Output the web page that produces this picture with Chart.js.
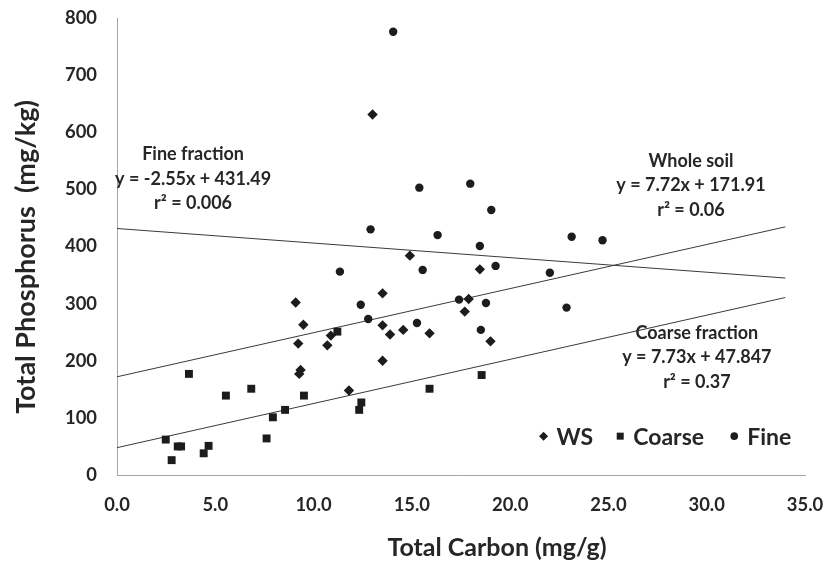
<!DOCTYPE html>
<html>
<head>
<meta charset="utf-8">
<script src="https://cdn.jsdelivr.net/npm/chart.js@4.4.1/dist/chart.umd.min.js"></script>
<style>
  html, body { margin: 0; padding: 0; background: #ffffff; }
  #wrap { width: 828px; height: 565px; position: relative; }
</style>
</head>
<body>
<div id="wrap"><canvas id="c" width="828" height="565"></canvas></div>
<script>
// ---- Data ----
const wsX = [9.09, 9.48, 9.22, 10.70, 10.88, 9.34, 9.27, 11.80, 13.0, 14.90, 18.46, 13.51, 17.89, 17.69, 13.51, 13.89, 14.56, 15.90, 19.0, 13.51];
const wsY = [302, 263, 230, 227, 244, 184, 177, 148, 631, 384, 360, 318, 308, 286, 262, 246, 254, 248, 234, 200];

const coarseX = [11.21, 3.66, 5.54, 6.83, 9.51, 8.55, 7.93, 7.61, 12.43, 12.32, 2.48, 3.09, 3.26, 2.78, 4.41, 4.66, 18.55, 15.90];
const coarseY = [251, 177, 139, 151, 139, 114, 101, 64, 127, 114, 62, 50, 50, 26, 38, 51, 175, 151];

const fineX = [14.05, 15.38, 17.97, 19.04, 16.31, 18.46, 23.13, 24.70, 15.55, 19.26, 22.02, 17.40, 18.77, 22.87, 15.26, 18.51, 12.90, 11.34, 12.40, 12.78];
const fineY = [776, 503, 510, 464, 420, 401, 417, 411, 359, 366, 354, 307, 301, 293, 266, 254, 430, 356, 298, 273];

// trendline end points (x from 0 to 34), values read from the printed equations
const trendX = [0, 34];
const wsTrendY = [171.91, 434.4];
const coarseTrendY = [47.85, 310.7];
const fineTrendY = [431.49, 344.8];

// tick labels
const xTicks = ["0.0", "5.0", "10.0", "15.0", "20.0", "25.0", "30.0", "35.0"];
const yTicks = ["0", "100", "200", "300", "400", "500", "600", "700", "800"];

// series names, axis titles and trend annotation texts
const seriesNames = ["WS", "Coarse", "Fine"];
const xTitle = "Total Carbon (mg/g)";
const yTitle = "Total Phosphorus  (mg/kg)";
const fineNote = ["Fine fraction", "y = -2.55x + 431.49", "r² = 0.006"];
const wsNote = ["Whole soil", "y = 7.72x + 171.91", "r² = 0.06"];
const coarseNote = ["Coarse fraction", "y = 7.73x + 47.847", "r² = 0.37"];

// ---- build ----
const pts = (xs, ys) => xs.map((x, i) => ({ x: x, y: ys[i] }));
const FONT = "Lato";
const TXT = "#262626";
const MARK = "#1c1c1c";
const LINE = "#3a3a3a";

const notesPlugin = {
  id: "notes",
  afterDatasetsDraw(chart) {
    const ctx = chart.ctx;
    const xs = chart.scales.x, ys = chart.scales.y;
    ctx.save();
    ctx.fillStyle = TXT;
    ctx.textAlign = "center";
    ctx.textBaseline = "middle";

    // axis titles
    ctx.font = "bold 25px " + FONT;
    ctx.fillText(xTitle, 497, 548);
    ctx.save();
    ctx.translate(26, 257);
    ctx.rotate(-Math.PI / 2);
    ctx.font = "bold 27px " + FONT;
    ctx.fillText(yTitle, 0, 0);
    ctx.restore();

    // trendline annotations
    ctx.font = "bold 18px " + FONT;
    const drawNote = (lines, dx, dy) => {
      const cx = xs.getPixelForValue(dx), cy = ys.getPixelForValue(dy);
      lines.forEach((t, i) => ctx.fillText(t, cx, cy + i * 24.5));
    };
    drawNote(fineNote, 3.87, 561);
    drawNote(wsNote, 29.2, 550);
    drawNote(coarseNote, 29.5, 249);

    // legend
    const ly = ys.getPixelForValue(68);
    ctx.textAlign = "left";
    ctx.font = "bold 23px " + FONT;
    const items = [
      { name: seriesNames[0], mx: xs.getPixelForValue(21.7), shape: "d" },
      { name: seriesNames[1], mx: xs.getPixelForValue(25.6), shape: "s" },
      { name: seriesNames[2], mx: xs.getPixelForValue(31.4), shape: "c" }
    ];
    items.forEach(it => {
      ctx.fillStyle = MARK;
      ctx.beginPath();
      if (it.shape === "d") {
        ctx.moveTo(it.mx, ly - 4.5); ctx.lineTo(it.mx + 4.5, ly); ctx.lineTo(it.mx, ly + 4.5); ctx.lineTo(it.mx - 4.5, ly);
        ctx.closePath();
      } else if (it.shape === "s") {
        ctx.rect(it.mx - 3.5, ly - 3.5, 7, 7);
      } else {
        ctx.arc(it.mx, ly, 3.8, 0, Math.PI * 2);
      }
      ctx.fill();
      ctx.fillStyle = TXT;
      ctx.fillText(it.name, it.mx + 13, ly + 1);
    });
    ctx.restore();
  }
};

new Chart(document.getElementById("c"), {
  type: "scatter",
  data: {
    datasets: [
      { label: seriesNames[0], data: pts(wsX, wsY), pointStyle: "rectRot", pointRadius: 5.2, backgroundColor: MARK, borderColor: MARK, borderWidth: 0, order: 1 },
      { label: seriesNames[1], data: pts(coarseX, coarseY), pointStyle: "rect", pointRadius: 5.6, backgroundColor: MARK, borderColor: MARK, borderWidth: 0, order: 1 },
      { label: seriesNames[2], data: pts(fineX, fineY), pointStyle: "circle", pointRadius: 4.2, backgroundColor: MARK, borderColor: MARK, borderWidth: 0, order: 1 },
      { label: "t1", data: pts(trendX, wsTrendY), showLine: true, pointRadius: 0, borderColor: LINE, borderWidth: 1, order: 2 },
      { label: "t2", data: pts(trendX, coarseTrendY), showLine: true, pointRadius: 0, borderColor: LINE, borderWidth: 1, order: 2 },
      { label: "t3", data: pts(trendX, fineTrendY), showLine: true, pointRadius: 0, borderColor: LINE, borderWidth: 1, order: 2 }
    ]
  },
  options: {
    responsive: false,
    animation: false,
    devicePixelRatio: 1,
    layout: { padding: { top: 18, right: 23, left: 0, bottom: 0 } },
    plugins: { legend: { display: false }, tooltip: { enabled: false } },
    scales: {
      x: {
        type: "linear", min: 0, max: 35,
        grid: { display: false, drawTicks: false },
        border: { display: true, color: "#a6a6a6", width: 1 },
        ticks: { stepSize: 5, color: TXT, font: { family: FONT, size: 18.4, weight: "bold" }, padding: 19,
                 maxRotation: 0, callback: (v, i) => xTicks[i] },
        afterFit: s => { s.height = 90; s.paddingLeft = 0; s.paddingRight = 0; }
      },
      y: {
        type: "linear", min: 0, max: 800,
        grid: { display: false, drawTicks: false },
        border: { display: true, color: "#a6a6a6", width: 1 },
        ticks: { stepSize: 100, color: TXT, font: { family: FONT, size: 18.4, weight: "bold" }, padding: 20,
                 callback: (v, i) => yTicks[i] },
        afterFit: s => { s.width = 117; s.paddingTop = 0; s.paddingBottom = 0; }
      }
    }
  },
  plugins: [notesPlugin]
});
</script>
</body>
</html>
